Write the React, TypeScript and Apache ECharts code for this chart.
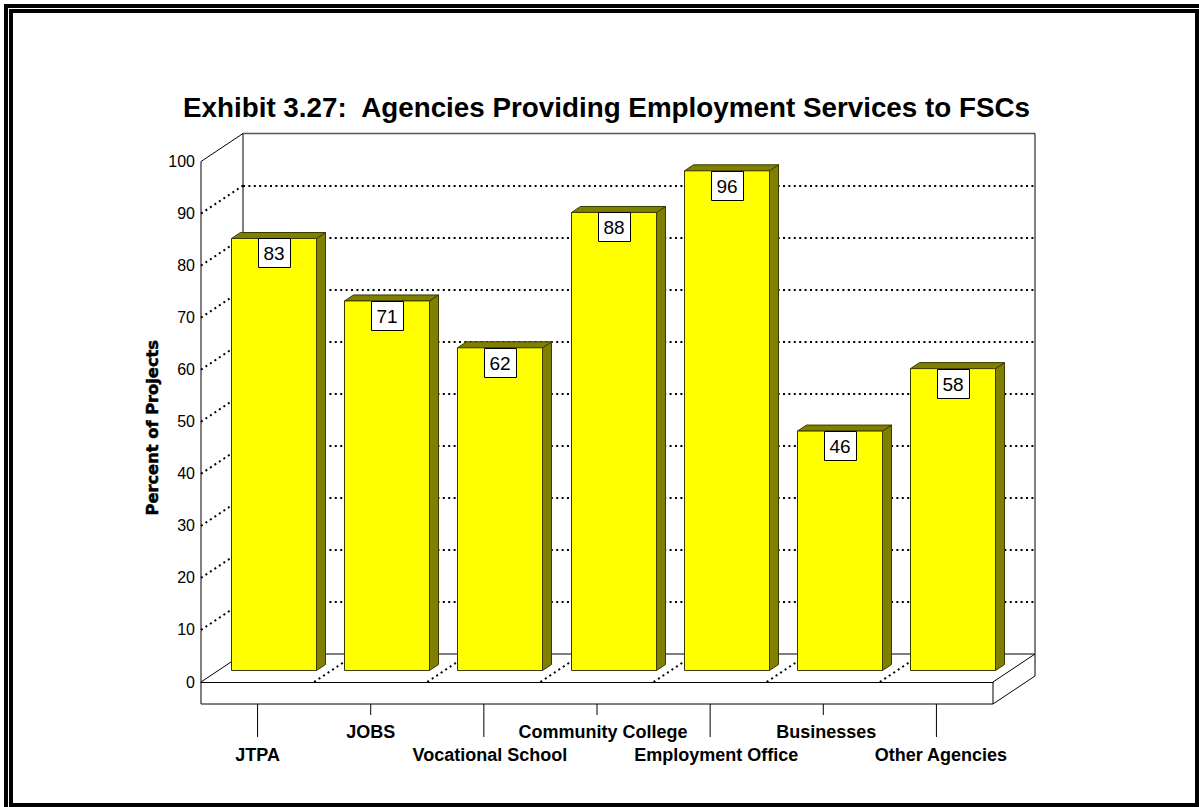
import React, { useEffect, useRef } from "react";
import * as echarts from "echarts";

// Agency names along the floor of the chart and the share of projects for each.
const agencies = [
  "JTPA",
  "JOBS",
  "Vocational School",
  "Community College",
  "Employment Office",
  "Businesses",
  "Other Agencies",
];
const percentOfProjects = [83, 71, 62, 88, 96, 46, 58];

const chartTitle = "Exhibit 3.27:  Agencies Providing Employment Services to FSCs";
const valueAxisName = "Percent of Projects";

// Box projection: how far the back wall and the bars are pushed from the front plane.
const WALL_DX = 42;
const WALL_DY = -28;
const BAR_DX = 16;
const BAR_DY = -11.5;
const BAR_WIDTH = 85;
const BAR_DEPTH_X = 9;
const BAR_DEPTH_Y = -6;
const PLINTH = 22;
const YELLOW = "#ffff00";
const OLIVE = "#808000";
const EDGE = "#3a3a00";

// Long agency names sit a little right of their tick.
const labelNudge = [0, 0, 6, 6, 6, 3, 4.5];

const line = (x1: number, y1: number, x2: number, y2: number, style: object) => ({
  type: "line",
  shape: { x1, y1, x2, y2 },
  style: { fill: "none", ...style },
});

function renderShell(_params: any, api: any) {
  const cs = _params.coordSys;
  const left = cs.x;
  const right = cs.x + cs.width;
  const top = cs.y;
  const base = cs.y + cs.height;
  const solid = { stroke: "#000", lineWidth: 1 };
  const grey = { stroke: "#555", lineWidth: 1.5 };
  const dotted = { stroke: "#000", lineWidth: 2, lineDash: [2, 3.4] };
  const children: any[] = [];

  // walls and floor outline
  children.push(line(left, top, left, base + PLINTH, solid));
  children.push(line(left, top, left + WALL_DX, top + WALL_DY, solid));
  children.push(line(left + WALL_DX, top + WALL_DY, left + WALL_DX, base + WALL_DY, solid));
  children.push(line(left + WALL_DX, top + WALL_DY, right + WALL_DX, top + WALL_DY, grey));
  children.push(line(right + WALL_DX, top + WALL_DY, right + WALL_DX, base + WALL_DY + PLINTH, solid));
  children.push(line(left + WALL_DX, base + WALL_DY, right + WALL_DX, base + WALL_DY, grey));
  children.push(line(left, base, left + WALL_DX, base + WALL_DY, solid));
  children.push(line(right, base, right + WALL_DX, base + WALL_DY, solid));
  children.push(line(left, base + PLINTH, right, base + PLINTH, solid));
  children.push(line(right, base, right, base + PLINTH, solid));
  children.push(line(right, base + PLINTH, right + WALL_DX, base + PLINTH + WALL_DY, solid));

  // dotted rungs on the left wall
  for (let v = 10; v < 100; v += 10) {
    const y = api.coord([0, v])[1];
    children.push(line(left, y, left + WALL_DX, y + WALL_DY, dotted));
  }

  // dotted floor lines between the categories, ticks down to the labels
  const step = cs.width / agencies.length;
  agencies.forEach((_, i) => {
    if (i > 0) {
      const x = left + step * i;
      children.push(line(x, base, x + WALL_DX, base + WALL_DY, dotted));
    }
    const cx = api.coord([i, 0])[0];
    children.push(line(cx, base + PLINTH, cx, base + PLINTH + (i % 2 === 0 ? 33 : 11), solid));
  });

  return { type: "group", children };
}

function renderBar(_params: any, api: any) {
  const category = api.value(0);
  const value = api.value(1);
  const [cx, yTop] = api.coord([category, value]);
  const yBase = api.coord([category, 0])[1];
  const x0 = Math.round(cx + BAR_DX - BAR_WIDTH / 2) + 0.5;
  const x1 = x0 + BAR_WIDTH;
  const y0 = yTop + BAR_DY;
  const y1 = yBase + BAR_DY;
  const edge = { stroke: EDGE, lineWidth: 1 };
  const box = { w: 32, h: 29 };
  const mid = (x0 + x1) / 2;
  return {
    type: "group",
    children: [
      {
        type: "polygon",
        shape: {
          points: [
            [x1, y0],
            [x1 + BAR_DEPTH_X, y0 + BAR_DEPTH_Y],
            [x1 + BAR_DEPTH_X, y1 + BAR_DEPTH_Y],
            [x1, y1],
          ],
        },
        style: { fill: OLIVE, ...edge },
      },
      {
        type: "polygon",
        shape: {
          points: [
            [x0, y0],
            [x0 + BAR_DEPTH_X, y0 + BAR_DEPTH_Y],
            [x1 + BAR_DEPTH_X, y0 + BAR_DEPTH_Y],
            [x1, y0],
          ],
        },
        style: { fill: OLIVE, ...edge },
      },
      {
        type: "rect",
        shape: { x: x0, y: y0, width: BAR_WIDTH, height: y1 - y0 },
        style: { fill: YELLOW, ...edge },
      },
      {
        type: "rect",
        shape: { x: Math.round(mid - box.w / 2) + 0.5, y: Math.round(y0) + 0.5, width: box.w, height: box.h },
        style: { fill: "#fff", stroke: "#000", lineWidth: 1 },
      },
      {
        type: "text",
        x: mid,
        y: y0 + box.h / 2 + 1,
        style: {
          text: String(value),
          fill: "#000",
          font: "19px 'Liberation Sans'",
          textAlign: "center",
          textVerticalAlign: "middle",
        },
      },
    ],
  };
}

export default function App() {
  const host = useRef<HTMLDivElement>(null);

  useEffect(() => {
    const chart = echarts.init(host.current!, undefined, { renderer: "svg" });
    const W = 1199;
    const H = 807;
    const frontGrid = { left: 201, top: 161.5, width: 792, height: 520.5 };
    const black = "#000";

    const frameBar = (x: number, y: number, width: number, height: number) => ({
      type: "rect",
      shape: { x, y, width, height },
      style: { fill: black },
      silent: true,
    });

    chart.setOption({
      animation: false,
      backgroundColor: "#fff",
      textStyle: { fontFamily: "'Liberation Sans'" },
      title: {
        text: chartTitle,
        left: 601.5,
        top: 88,
        textAlign: "center",
        textStyle: { fontFamily: "'Liberation Sans'", fontSize: 27.8, fontWeight: "bold", color: black },
      },
      graphic: [
        frameBar(4, 4, W - 4, 4),
        frameBar(4, 4, 4, H - 4),
        frameBar(9, 9, W - 9, 4),
        frameBar(9, 9, 4, H - 9),
        frameBar(1195, 9, 4, H - 9),
        frameBar(9, 803, W - 9, 4),
      ],
      grid: [
        { ...frontGrid, containLabel: false },
        {
          left: frontGrid.left + WALL_DX,
          top: frontGrid.top + WALL_DY,
          width: frontGrid.width,
          height: frontGrid.height,
        },
      ],
      xAxis: [
        {
          type: "category",
          gridIndex: 0,
          data: agencies.map((name, i) => ({
            value: name,
            textStyle: { padding: [i % 2 === 0 ? 23 : 0, 0, 0, labelNudge[i] * 2] },
          })),
          axisLine: { show: true, lineStyle: { color: black, width: 1 } },
          axisTick: { show: false },
          axisLabel: {
            interval: 0,
            hideOverlap: false,
            margin: 41,
            color: black,
            fontFamily: "'Liberation Sans'",
            fontWeight: "bold",
            fontSize: 18,
          },
        },
        {
          type: "category",
          gridIndex: 1,
          data: agencies,
          show: false,
        },
      ],
      yAxis: [
        {
          type: "value",
          gridIndex: 0,
          min: 0,
          max: 100,
          interval: 10,
          name: valueAxisName,
          nameLocation: "middle",
          nameGap: 41,
          nameMoveOverlap: false,
          nameRotate: 90,
          nameTextStyle: {
            color: black,
            fontFamily: "'DejaVu Sans'",
            fontWeight: "bold",
            fontSize: 16.3,
            textBorderColor: black,
            textBorderWidth: 0.5,
            padding: [0, 12, 0, 0],
          },
          axisLine: { show: false },
          axisTick: { show: false },
          axisLabel: {
            color: black,
            fontFamily: "'Liberation Sans'",
            fontSize: 16,
            margin: 6,
          },
          splitLine: { show: false },
        },
        {
          type: "value",
          gridIndex: 1,
          min: 0,
          max: 100,
          interval: 10,
          axisLine: { show: false },
          axisTick: { show: false },
          axisLabel: { show: false },
          splitLine: {
            show: true,
            showMinLine: false,
            showMaxLine: false,
            lineStyle: { color: black, width: 2, type: [2, 3.4] },
          },
        },
      ],
      series: [
        {
          type: "custom",
          name: "shell",
          xAxisIndex: 0,
          yAxisIndex: 0,
          z: 2,
          silent: true,
          data: [[0, 0]],
          renderItem: renderShell,
        },
        {
          type: "custom",
          name: valueAxisName,
          xAxisIndex: 0,
          yAxisIndex: 0,
          z: 3,
          silent: true,
          encode: { x: 0, y: 1 },
          data: percentOfProjects.map((v, i) => [i, v]),
          renderItem: renderBar,
        },
      ],
    });

    return () => chart.dispose();
  }, []);

  return <div ref={host} style={{ position: "absolute", left: 0, top: 0, width: 1199, height: 807 }} />;
}
